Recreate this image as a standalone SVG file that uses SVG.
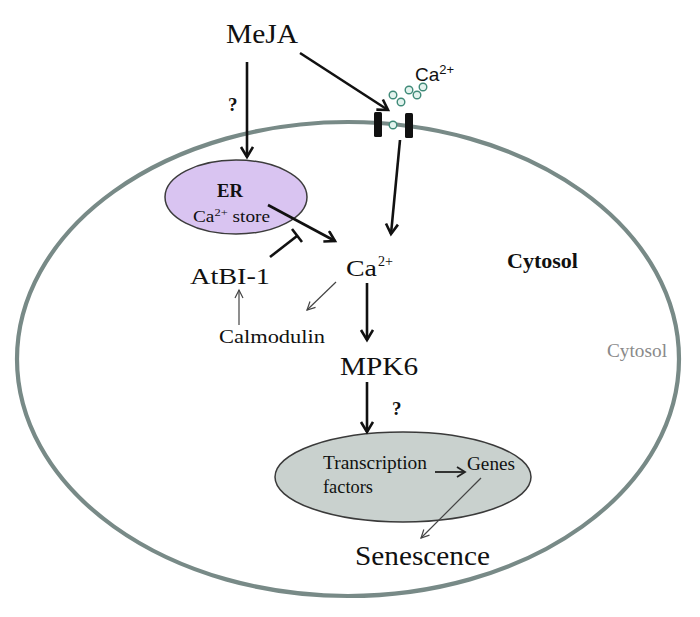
<svg xmlns="http://www.w3.org/2000/svg" width="700" height="617" viewBox="0 0 700 617">
<defs>
<style>
.serif{font-family:"Liberation Serif","Times New Roman",serif;fill:#111}
.sans{font-family:"Liberation Sans",Arial,sans-serif;fill:#111}
.thick{stroke:#111;stroke-width:2.6;fill:none}
.thin{stroke:#444;stroke-width:1.2;fill:none}
.med{stroke:#222;stroke-width:1.8;fill:none}
.ion{fill:#e3f3ee;stroke:#3f8a78;stroke-width:1.4}
</style>
<marker id="ah" markerUnits="userSpaceOnUse" markerWidth="16" markerHeight="16" refX="12" refY="7" orient="auto" viewBox="0 0 16 16">
<path d="M2,1 L12,7 L2,13" fill="none" stroke="#111" stroke-width="2.6"/>
</marker>
<marker id="ahm" markerUnits="userSpaceOnUse" markerWidth="14" markerHeight="14" refX="10" refY="6" orient="auto" viewBox="0 0 14 14">
<path d="M2,1 L10,6 L2,11" fill="none" stroke="#222" stroke-width="1.8"/>
</marker>
<marker id="aht" markerUnits="userSpaceOnUse" markerWidth="12" markerHeight="12" refX="9" refY="5" orient="auto" viewBox="0 0 12 12">
<path d="M1,1 L9,5 L1,9" fill="none" stroke="#444" stroke-width="1.2"/>
</marker>
</defs>
<rect width="700" height="617" fill="#fff"/>

<g id="cell">
<ellipse cx="348" cy="359" rx="331" ry="237" fill="none" stroke="#788a87" stroke-width="4.2"/>
</g>

<g id="channel">
<rect x="374" y="112" width="8" height="25" rx="1.5" fill="#111"/>
<rect x="405" y="113" width="8" height="25" rx="1.5" fill="#111"/>
<circle class="ion" cx="393" cy="125" r="3.8"/>
<circle class="ion" cx="393" cy="95" r="3.8"/>
<circle class="ion" cx="401" cy="102" r="3.8"/>
<circle class="ion" cx="409" cy="90" r="3.8"/>
<circle class="ion" cx="417" cy="95" r="3.8"/>
<circle class="ion" cx="423" cy="87" r="3.8"/>
<text class="sans" x="415" y="81" font-size="19">Ca<tspan font-size="13" dy="-7">2+</tspan></text>
</g>

<g id="meja">
<text class="serif" x="226" y="43" font-size="27" textLength="72" lengthAdjust="spacingAndGlyphs">MeJA</text>
</g>

<g id="er">
<ellipse cx="236" cy="197" rx="71" ry="37" fill="#d9c4f1" stroke="#3c3c3c" stroke-width="1.5"/>
<text class="serif" x="217" y="197" font-size="18" font-weight="bold" textLength="26" lengthAdjust="spacingAndGlyphs">ER</text>
<text class="serif" x="193" y="222" font-size="17" textLength="77" lengthAdjust="spacingAndGlyphs">Ca<tspan font-size="11" dy="-6">2+</tspan><tspan dy="6"> store</tspan></text>
</g>

<g id="ca">
<text class="serif" x="346" y="276" font-size="24" textLength="31" lengthAdjust="spacingAndGlyphs">Ca</text>
<text class="serif" x="378" y="266" font-size="15" textLength="15" lengthAdjust="spacingAndGlyphs">2+</text>
</g>

<g id="atbi1">
<text class="serif" x="190" y="284" font-size="24" textLength="80" lengthAdjust="spacingAndGlyphs">AtBI-1</text>
</g>

<g id="calmodulin">
<text class="serif" x="219" y="343" font-size="18" textLength="106" lengthAdjust="spacingAndGlyphs">Calmodulin</text>
</g>

<g id="cytosol-labels">
<text class="serif" x="507" y="268" font-size="21" font-weight="bold" textLength="71" lengthAdjust="spacingAndGlyphs">Cytosol</text>
<text class="serif" x="607" y="357" font-size="19" style="fill:#8a8a8a" textLength="60" lengthAdjust="spacingAndGlyphs">Cytosol</text>
</g>

<g id="mpk6">
<text class="serif" x="340" y="375" font-size="26" textLength="78" lengthAdjust="spacingAndGlyphs">MPK6</text>
</g>

<g id="nucleus">
<ellipse cx="403" cy="477" rx="128" ry="45" fill="#c9d1ce" stroke="#3a3a3a" stroke-width="1.5"/>
<text class="serif" x="323" y="469" font-size="18" textLength="104" lengthAdjust="spacingAndGlyphs">Transcription</text>
<text class="serif" x="323" y="493" font-size="18" textLength="50" lengthAdjust="spacingAndGlyphs">factors</text>
<text class="serif" x="467" y="470" font-size="18" textLength="48" lengthAdjust="spacingAndGlyphs">Genes</text>
</g>

<g id="senescence">
<text class="serif" x="355" y="565" font-size="28" textLength="135" lengthAdjust="spacingAndGlyphs">Senescence</text>
</g>

<g id="connectors">
<line class="thick" x1="247" y1="62" x2="247" y2="157" marker-end="url(#ah)"/>
<text class="serif" x="228" y="111" font-size="19" font-weight="bold">?</text>
<line class="thick" x1="300" y1="53" x2="388" y2="110" marker-end="url(#ah)"/>
<line class="thick" x1="400" y1="140" x2="391" y2="234" marker-end="url(#ah)"/>
<line class="thick" x1="268" y1="205" x2="335" y2="241" marker-end="url(#ah)"/>
<line class="thick" x1="270" y1="257" x2="297" y2="236"/>
<line class="thick" x1="292" y1="229" x2="302" y2="242"/>
<line class="thin" x1="239" y1="325" x2="239" y2="290" marker-end="url(#aht)"/>
<line class="thin" x1="336" y1="282" x2="307" y2="310" marker-end="url(#aht)"/>
<line class="thick" x1="367" y1="283" x2="367" y2="340" marker-end="url(#ah)"/>
<line class="thick" x1="367" y1="382" x2="367" y2="432" marker-end="url(#ah)"/>
<text class="serif" x="392" y="415" font-size="19" font-weight="bold">?</text>
<line class="med" x1="435" y1="472" x2="465" y2="472" marker-end="url(#ahm)"/>
<line class="thin" x1="481" y1="478" x2="421" y2="538" marker-end="url(#aht)"/>
</g>
</svg>
